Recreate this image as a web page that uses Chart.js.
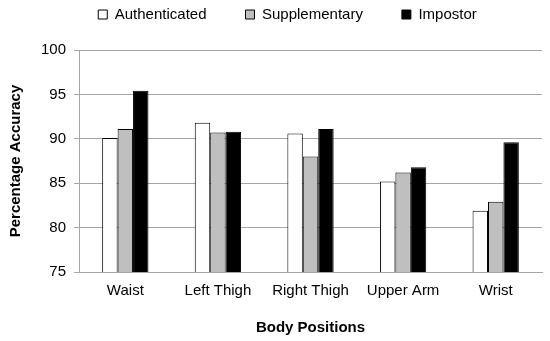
<!DOCTYPE html>
<html><head><meta charset="utf-8">
<script src="https://cdn.jsdelivr.net/npm/chart.js@4.4.0/dist/chart.umd.min.js"></script>
<style>html,body{margin:0;padding:0;background:#fff}#wrap{width:550px;height:341px}</style>
</head><body><div id="wrap"><canvas id="c" width="550" height="341"></canvas></div>
<script>
const categories = ["Waist", "Left Thigh", "Right Thigh", "Upper Arm", "Wrist"];
const authenticated = [90.1, 91.8, 90.6, 85.2, 81.9];
const supplementary = [91.1, 90.7, 88.0, 86.2, 82.9];
const impostor = [95.4, 90.8, 91.1, 86.8, 89.6];
const yTicks = [75, 80, 85, 90, 95, 100];

const font = "'Liberation Sans', Arial, sans-serif";
const legendAdjust = {
  id: 'legendAdjust',
  beforeLayout(chart) {
    const lg = chart.legend;
    if (lg && !lg._patched) {
      const f = lg.fit.bind(lg);
      lg.fit = function () { f(); this.height += 18; };
      lg._patched = true;
    }
  },
  afterLayout(chart) {
    if (chart.legend) { chart.legend.left += 13; chart.legend.right += 13; }
  }
};
new Chart(document.getElementById('c'), {
  type: 'bar',
  plugins: [legendAdjust],
  data: {
    labels: categories,
    datasets: [
      {label: 'Authenticated', data: authenticated, backgroundColor: '#ffffff', borderColor: '#000000', borderWidth: 1},
      {label: 'Supplementary', data: supplementary, backgroundColor: '#bfbfbf', borderColor: '#000000', borderWidth: 1},
      {label: 'Impostor', data: impostor, backgroundColor: '#000000', borderColor: '#000000', borderWidth: 1}
    ]
  },
  options: {
    responsive: false,
    animation: false,
    layout: {padding: {left: 7, right: 8, top: -32, bottom: 0}},
    datasets: {bar: {categoryPercentage: 0.5, barPercentage: 1.0}},
    plugins: {
      tooltip: {enabled: false},
      legend: {
        position: 'top',
        labels: {
          boxWidth: 9, boxHeight: 9, padding: 39,
          color: '#000', font: {family: font, size: 15}
        }
      }
    },
    scales: {
      x: {
        grid: {display: false, drawTicks: false},
        border: {display: true, color: '#a6a6a6', width: 1},
        ticks: {color: '#000', font: {family: font, size: 15}, padding: 10, maxRotation: 0},
        title: {display: true, text: 'Body Positions', color: '#000', font: {family: font, size: 15, weight: 'bold'}, padding: {top: 9, bottom: 4}}
      },
      y: {
        min: 75, max: 100,
        afterBuildTicks: (ax) => { ax.ticks = yTicks.map(v => ({value: v})); },
        grid: {color: '#a6a6a6', lineWidth: 1, tickLength: 5, drawTicks: true},
        border: {display: true, color: '#a6a6a6', width: 1},
        ticks: {color: '#000', font: {family: font, size: 15}, padding: 8},
        title: {display: true, text: 'Percentage Accuracy', color: '#000', font: {family: font, size: 15, weight: 'bold'}, padding: {top: 0, bottom: 8}}
      }
    }
  }
});
</script>
</body></html>
